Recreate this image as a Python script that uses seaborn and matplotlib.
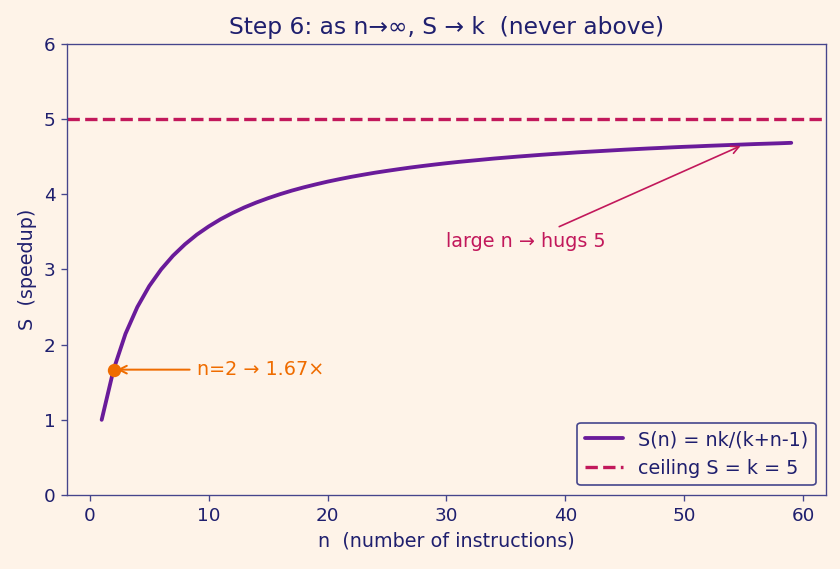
import numpy as np
import pandas as pd
import seaborn as sns
from matplotlib import pyplot as plt

# speedup values (k = 5)
k = 5
n_vals = list(range(1, 60))
s_vals = [1.000, 1.667, 2.143, 2.500, 2.778, 3.000, 3.182, 3.333, 3.462, 3.571,
          3.667, 3.750, 3.824, 3.889, 3.947, 4.000, 4.048, 4.091, 4.130, 4.167,
          4.200, 4.231, 4.259, 4.286, 4.310, 4.333, 4.355, 4.375, 4.394, 4.412,
          4.429, 4.444, 4.459, 4.474, 4.487, 4.500, 4.512, 4.524, 4.535, 4.545,
          4.556, 4.565, 4.574, 4.583, 4.592, 4.600, 4.608, 4.615, 4.623, 4.630,
          4.636, 4.643, 4.649, 4.655, 4.661, 4.667, 4.672, 4.677, 4.683]
mark_n, mark_s = 2, 1.667

bg = "#fef3e8"
ink = "#1f1f6e"
edge = "#45458c"
purple = "#6a1b9a"
crimson = "#c2185b"
orange = "#ef6c00"

sns.set_style("ticks", rc={"axes.facecolor": bg, "figure.facecolor": bg,
                           "axes.edgecolor": edge, "text.color": ink,
                           "axes.labelcolor": ink, "xtick.color": edge,
                           "ytick.color": edge})
plt.rcParams['font.family'] = ['DejaVu Sans']

df = pd.DataFrame({"n": n_vals, "S": s_vals})

fig, ax = plt.subplots(figsize=(7, 4.742), dpi=120)
sns.lineplot(data=df, x="n", y="S", ax=ax, color=purple, lw=2.3,
             label="S(n) = nk/(k+n-1)")
ax.axhline(k, color=crimson, ls="--", lw=2, label="ceiling S = k = 5")

ax.plot([mark_n], [mark_s], "o", color=orange, ms=7, zorder=5)
ax.annotate("n=2 → 1.67×", xy=(mark_n, mark_s), xytext=(9, mark_s),
            color=orange, fontsize=11.5, ha="left", va="center",
            arrowprops=dict(arrowstyle="->", color=orange, lw=1.2))
ax.annotate("large n → hugs 5", xy=(55, 4.66), xytext=(30, 3.3),
            color=crimson, fontsize=11.5, ha="left",
            arrowprops=dict(arrowstyle="->", color=crimson, lw=1.0))

ax.set_ylim(0, 6)
ax.set_xticks([0, 10, 20, 30, 40, 50, 60])
ax.set_xlabel("n  (number of instructions)", fontsize=11.5)
ax.set_ylabel("S  (speedup)", fontsize=11.5)
ax.set_title("Step 6: as n→∞, S → k  (never above)", fontsize=14, color=ink)
ax.tick_params(labelsize=11, labelcolor=ink)

leg = ax.legend(loc="lower right", fontsize=11.5, frameon=True,
                facecolor=bg, edgecolor=edge, framealpha=1)
for t in leg.get_texts():
    t.set_color(ink)

fig.subplots_adjust(left=0.08, right=0.983, top=0.923, bottom=0.13)
fig.savefig("out.png", dpi=120, facecolor=bg)
